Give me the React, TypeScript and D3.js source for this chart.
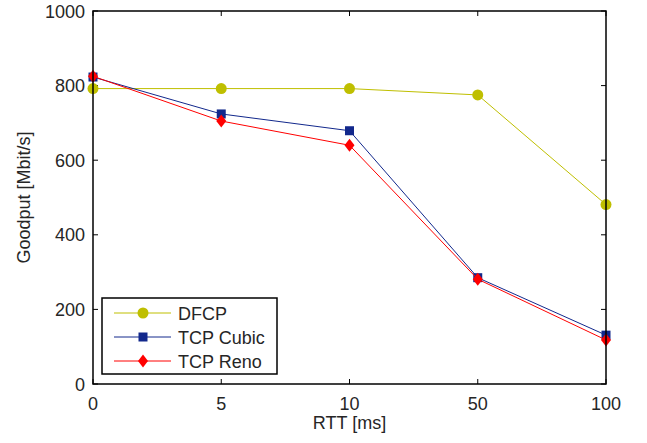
import React from 'react'
import * as d3 from 'd3'

const rttLabels = ['0', '5', '10', '50', '100']
const dfcp = [792, 792, 792, 775, 481]
const tcpCubic = [823, 724, 679, 285, 131]
const tcpReno = [825, 705, 640, 281, 118]
const yTicks = [0, 200, 400, 600, 800, 1000]

const series = [
  { name: 'DFCP', values: dfcp, color: '#bfbf00', marker: 'circle' },
  { name: 'TCP Cubic', values: tcpCubic, color: '#12288c', marker: 'square' },
  { name: 'TCP Reno', values: tcpReno, color: '#ff0000', marker: 'diamond' },
]

const width = 647
const height = 443
const margin = { left: 93, right: 41, top: 11, bottom: 59 }
const textColor = '#262626'
const font = '"Liberation Sans", Arial, Helvetica, sans-serif'

function Marker({ type, x, y, color }: { type: string; x: number; y: number; color: string }) {
  if (type === 'circle') return <circle cx={x} cy={y} r={5.5} fill={color} />
  if (type === 'square') return <rect x={x - 4.5} y={y - 4.5} width={9} height={9} fill={color} />
  // diamond, a bit taller than wide
  return <path d={`M${x},${y - 6.5}L${x + 5},${y}L${x},${y + 6.5}L${x - 5},${y}Z`} fill={color} />
}

export default function App() {
  const x = d3
    .scalePoint<string>()
    .domain(rttLabels)
    .range([margin.left, width - margin.right])
    .padding(0)

  const y = d3
    .scaleLinear()
    .domain([0, 1000])
    .range([height - margin.bottom, margin.top])

  const line = d3
    .line<number>()
    .x((_, i) => x(rttLabels[i]) as number)
    .y(d => y(d))

  const x0 = margin.left
  const x1 = width - margin.right
  const y0 = height - margin.bottom
  const y1 = margin.top
  const tickLen = 5

  const legend = { x: 102, y: 298, w: 175, h: 76 }

  return (
    <svg
      width={width}
      height={height}
      style={{ position: 'absolute', left: 0, top: 0, background: '#fff' }}
      fontFamily={font}
    >
      <rect width={width} height={height} fill="#fff" />

      {/* ticks, inward on all four sides */}
      {rttLabels.map(t => (
        <g key={'xt' + t} stroke="#000" strokeWidth={1}>
          <line x1={x(t)} x2={x(t)} y1={y0} y2={y0 - tickLen} />
          <line x1={x(t)} x2={x(t)} y1={y1} y2={y1 + tickLen} />
        </g>
      ))}
      {yTicks.map(t => (
        <g key={'yt' + t} stroke="#000" strokeWidth={1}>
          <line x1={x0} x2={x0 + tickLen} y1={y(t)} y2={y(t)} />
          <line x1={x1} x2={x1 - tickLen} y1={y(t)} y2={y(t)} />
        </g>
      ))}

      {/* series */}
      {series.map(s => (
        <g key={s.name}>
          <path d={line(s.values) || ''} fill="none" stroke={s.color} strokeWidth={1} />
          {s.values.map((v, i) => (
            <Marker key={i} type={s.marker} x={x(rttLabels[i]) as number} y={y(v)} color={s.color} />
          ))}
        </g>
      ))}

      {/* box */}
      <rect x={x0} y={y1} width={x1 - x0} height={y0 - y1} fill="none" stroke="#000" strokeWidth={1.5} />

      {/* tick labels */}
      {rttLabels.map(t => (
        <text key={'xl' + t} x={x(t)} y={410} textAnchor="middle" fontSize={18} fill={textColor}>
          {t}
        </text>
      ))}
      {yTicks.map(t => (
        <text key={'yl' + t} x={85} y={y(t) + 6.5} textAnchor="end" fontSize={18} fill={textColor}>
          {t}
        </text>
      ))}

      {/* axis labels */}
      <text x={(x0 + x1) / 2} y={429} textAnchor="middle" fontSize={18} fill={textColor}>
        RTT [ms]
      </text>
      <text
        transform={`translate(30, ${(y0 + y1) / 2}) rotate(-90)`}
        textAnchor="middle"
        fontSize={18}
        fill={textColor}
      >
        Goodput [Mbit/s]
      </text>

      {/* legend */}
      <rect x={legend.x} y={legend.y} width={legend.w} height={legend.h} fill="#fff" stroke="#000" strokeWidth={1.5} />
      {series.map((s, i) => {
        const ry = 313 + i * 24
        return (
          <g key={'lg' + s.name}>
            <line x1={114} x2={171} y1={ry} y2={ry} stroke={s.color} strokeWidth={1} />
            <Marker type={s.marker} x={143} y={ry} color={s.color} />
            <text x={178} y={ry + 6.5} fontSize={18} fill={textColor}>
              {s.name}
            </text>
          </g>
        )
      })}
    </svg>
  )
}
